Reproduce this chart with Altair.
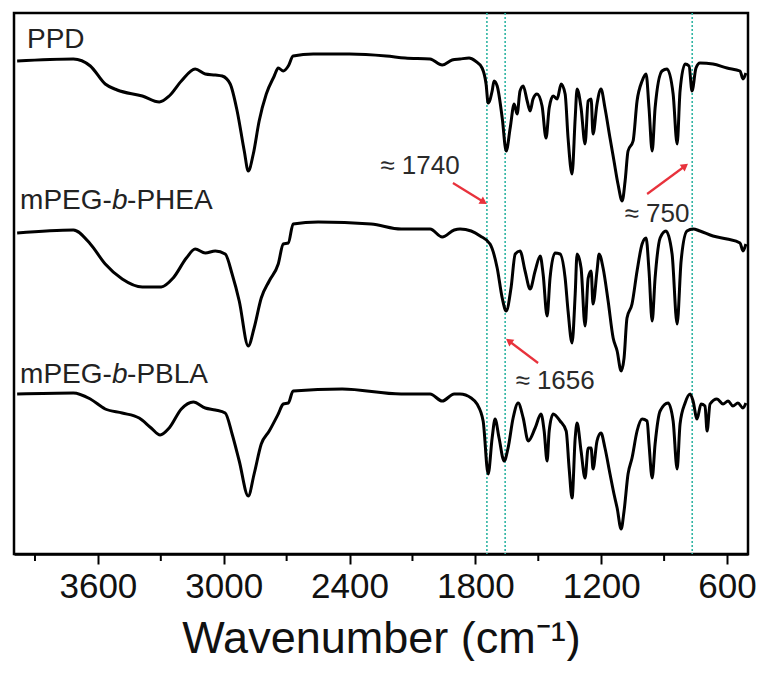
import altair as alt
import pandas as pd

# ---- spectra (wavenumber, transmittance in arbitrary units, stacked) ----
ppd_wn = [3985, 3717, 3636, 3565, 3508, 3388, 3307, 3260, 3202, 3136,
          3088, 3040, 3007, 2969, 2936, 2902, 2883, 2859, 2831, 2797,
          2759, 2740, 2716, 2692, 2669, 2573, 2400, 2225, 2135, 2016,
          1958, 1911, 1873, 1830, 1800, 1768, 1749, 1739, 1720, 1711,
          1696, 1672, 1653, 1634, 1615, 1601, 1587, 1572, 1553, 1539,
          1525, 1506, 1482, 1463, 1448, 1429, 1410, 1391, 1372, 1358,
          1339, 1324, 1315, 1296, 1277, 1262, 1248, 1239, 1220, 1201,
          1182, 1158, 1139, 1120, 1100, 1086, 1072, 1048, 1029, 1005,
          986, 972, 957, 943, 910, 886, 857, 838, 824, 800,
          781, 767, 748, 729, 667, 600, 538, 524, 510]
ppd_val = [493, 495, 488, 470, 464, 458, 452, 458, 473, 485,
           480, 479, 478, 470, 443, 403, 383, 400, 433, 460,
           478, 486, 483, 488, 498, 500, 500, 498, 496, 495,
           489, 494, 495, 496, 493, 486, 470, 451, 463, 473,
           468, 436, 403, 426, 450, 440, 463, 468, 453, 443,
           455, 460, 448, 416, 446, 458, 455, 470, 460, 416,
           380, 436, 465, 446, 410, 453, 455, 420, 450, 465,
           446, 416, 393, 370, 353, 373, 403, 413, 453, 473,
           480, 446, 403, 446, 483, 485, 460, 410, 463, 490,
           488, 463, 486, 491, 490, 486, 483, 475, 481]

phea_wn = [3985, 3717, 3636, 3565, 3484, 3388, 3298, 3241, 3178, 3136,
           3088, 3040, 2993, 2960, 2926, 2883, 2855, 2821, 2783, 2740,
           2716, 2692, 2669, 2550, 2297, 2154, 2016, 1958, 1901, 1873,
           1820, 1777, 1730, 1696, 1672, 1653, 1630, 1610, 1587, 1563,
           1539, 1515, 1491, 1477, 1458, 1444, 1420, 1396, 1372, 1358,
           1339, 1324, 1315, 1296, 1277, 1262, 1248, 1239, 1220, 1210,
           1191, 1167, 1143, 1124, 1105, 1091, 1077, 1053, 1029, 1005,
           986, 972, 957, 943, 919, 891, 862, 838, 819, 791,
           762, 729, 667, 600, 538, 524, 510]
phea_val = [321, 324, 310, 290, 275, 267, 267, 276, 296, 305,
            301, 303, 300, 280, 253, 208, 226, 256, 273, 290,
            310, 311, 330, 332, 330, 325, 325, 317, 324, 325,
            323, 318, 310, 286, 256, 243, 266, 300, 303, 283,
            265, 283, 298, 280, 238, 276, 301, 300, 276, 243,
            211, 260, 300, 286, 228, 276, 283, 250, 283, 300,
            286, 253, 216, 203, 183, 196, 236, 250, 283, 310,
            316, 283, 233, 276, 316, 323, 300, 230, 293, 323,
            325, 323, 318, 315, 311, 303, 310]

pbla_wn = [3985, 3717, 3636, 3565, 3484, 3403, 3346, 3303, 3260, 3202,
           3145, 3088, 3040, 2993, 2960, 2926, 2883, 2855, 2821, 2783,
           2740, 2716, 2692, 2669, 2435, 2154, 2016, 1958, 1901, 1873,
           1820, 1792, 1763, 1739, 1720, 1706, 1687, 1663, 1644, 1620,
           1596, 1572, 1548, 1515, 1487, 1472, 1458, 1448, 1429, 1396,
           1367, 1353, 1339, 1324, 1315, 1296, 1277, 1262, 1248, 1239,
           1220, 1201, 1182, 1158, 1139, 1124, 1105, 1091, 1072, 1053,
           1029, 1005, 981, 972, 957, 943, 919, 881, 857, 838,
           824, 800, 776, 762, 743, 724, 705, 695, 681, 648,
           619, 595, 572, 548, 524, 510]
pbla_val = [160, 161, 155, 145, 141, 136, 126, 119, 126, 145,
            152, 146, 144, 141, 120, 93, 58, 80, 110, 123,
            140, 150, 151, 163, 165, 160, 160, 153, 160, 160,
            156, 150, 133, 80, 116, 135, 116, 93, 106, 136,
            151, 136, 113, 126, 140, 123, 93, 123, 140, 133,
            123, 86, 56, 116, 131, 103, 76, 106, 106, 85,
            113, 121, 106, 80, 60, 46, 25, 43, 80, 96,
            123, 135, 133, 110, 76, 110, 143, 151, 133, 85,
            130, 151, 160, 153, 135, 150, 148, 123, 150, 155,
            150, 153, 148, 151, 146, 151]

# marker (dotted) lines
marker_wn = [1745, 1658, 766]

# axis ticks
major_ticks = [3600, 3000, 2400, 1800, 1200, 600]
minor_ticks = [3900, 3300, 2700, 2100, 1500, 900]

# peak annotations
ann_text = ["\u2248 1740", "\u2248 750", "\u2248 1656"]
ann_wn = [2064, 934, 1420]
ann_val = [388, 340, 173]
arrow_wn0 = [1907, 981, 1501]
arrow_val0 = [371, 360, 191]
arrow_wn1 = [1760, 800, 1640]
arrow_val1 = [352, 388, 213]
arrow_angle = [32, 323, 217]

# series labels (split so that the "b" can be italic)
lab1_text = ["PPD", "mPEG-", "mPEG-"]
lab1_wn = [3938, 3971, 3971]
lab1_val = [514, 353, 179]
lab2_text = ["b", "b"]
lab2_wn = [3971, 3971]
lab2_val = [353, 179]
lab3_text = ["-PHEA", "-PBLA"]
lab3_wn = [3971, 3971]
lab3_val = [353, 179]

FONT = "Liberation Sans"

spectra = pd.concat([
    pd.DataFrame({"series": "PPD", "wn": ppd_wn, "val": ppd_val}),
    pd.DataFrame({"series": "mPEG-b-PHEA", "wn": phea_wn, "val": phea_val}),
    pd.DataFrame({"series": "mPEG-b-PBLA", "wn": pbla_wn, "val": pbla_val}),
], ignore_index=True)

xscale = alt.Scale(domain=[500, 4000], reverse=True, nice=False, zero=False)
yscale = alt.Scale(domain=[0, 541], nice=False, zero=False)

xaxis = alt.Axis(values=major_ticks, format="d", title="Wavenumber (cm\u207b\u00b9)",
                 grid=False, tickSize=10, tickWidth=2, tickColor="black",
                 domainColor="black", domainWidth=2.5, labelFontSize=35,
                 labelColor="#111", labelPadding=5, labelFlush=False,
                 titleFontSize=45, titleFontWeight="normal", titleColor="#111",
                 titlePadding=12, labelFont=FONT, titleFont=FONT)

X = alt.X("wn:Q", scale=xscale, axis=xaxis)
Y = alt.Y("val:Q", scale=yscale, axis=None)

markers = alt.Chart(pd.DataFrame({"wn": marker_wn})).mark_rule(
    color="#2fb5a3", strokeWidth=1.6, strokeDash=[2, 2]
).encode(x=alt.X("wn:Q", scale=xscale))

lines = alt.Chart(spectra).mark_line(
    color="black", strokeWidth=3, strokeJoin="round", interpolate="monotone"
).encode(
    x=X, y=Y, detail="series:N", order=alt.Order("wn:Q", sort="descending")
)

minor = alt.Chart(pd.DataFrame({"wn": minor_ticks})).mark_rule(
    color="black", strokeWidth=2
).encode(x=alt.X("wn:Q", scale=xscale), y=alt.value(541), y2=alt.value(548))

arrows_df = pd.DataFrame({"wn": arrow_wn0, "val": arrow_val0,
                          "wn2": arrow_wn1, "val2": arrow_val1, "angle": arrow_angle})
arrow_lines = alt.Chart(arrows_df).mark_rule(color="#e8323c", strokeWidth=2.2).encode(
    x=alt.X("wn:Q", scale=xscale), y=alt.Y("val:Q", scale=yscale),
    x2="wn2:Q", y2="val2:Q")
arrow_heads = alt.Chart(arrows_df).mark_point(
    shape="triangle-right", filled=True, color="#e8323c", size=70, opacity=1
).encode(x=alt.X("wn2:Q", scale=xscale), y=alt.Y("val2:Q", scale=yscale),
         angle=alt.Angle("angle:Q", scale=None))

ann = alt.Chart(pd.DataFrame({"t": ann_text, "wn": ann_wn, "val": ann_val})).mark_text(
    font=FONT, fontSize=26, color="#2a2a2a", align="center", baseline="middle"
).encode(x=alt.X("wn:Q", scale=xscale), y=alt.Y("val:Q", scale=yscale), text="t:N")

lab1 = alt.Chart(pd.DataFrame({"t": lab1_text, "wn": lab1_wn, "val": lab1_val})).mark_text(
    font=FONT, fontSize=28, color="#222", align="left", baseline="middle"
).encode(x=alt.X("wn:Q", scale=xscale), y=alt.Y("val:Q", scale=yscale), text="t:N")
lab2 = alt.Chart(pd.DataFrame({"t": lab2_text, "wn": lab2_wn, "val": lab2_val})).mark_text(
    font=FONT, fontSize=28, color="#222", align="left", baseline="middle",
    fontStyle="italic", dx=92
).encode(x=alt.X("wn:Q", scale=xscale), y=alt.Y("val:Q", scale=yscale), text="t:N")
lab3 = alt.Chart(pd.DataFrame({"t": lab3_text, "wn": lab3_wn, "val": lab3_val})).mark_text(
    font=FONT, fontSize=28, color="#222", align="left", baseline="middle", dx=107
).encode(x=alt.X("wn:Q", scale=xscale), y=alt.Y("val:Q", scale=yscale), text="t:N")

chart = alt.layer(
    markers, lines, minor, arrow_lines, arrow_heads, ann, lab1, lab2, lab3
).properties(
    width=734, height=541,
    background="white",
    padding={"left": 6, "top": 4, "right": 0, "bottom": 0},
).configure_view(
    stroke="black", strokeWidth=2.5
)

chart.save("out.html", embed_options={"renderer": "svg", "actions": False})
